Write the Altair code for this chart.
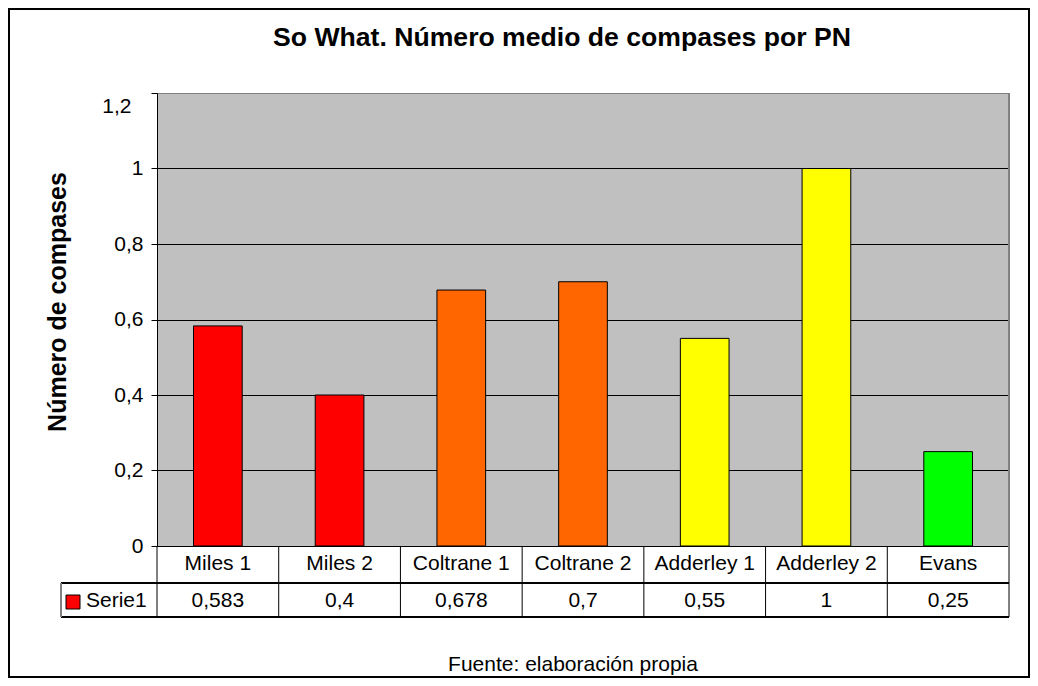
import altair as alt
import pandas as pd

categories = ["Miles 1", "Miles 2", "Coltrane 1", "Coltrane 2", "Adderley 1", "Adderley 2", "Evans"]
values = [0.583, 0.4, 0.678, 0.7, 0.55, 1, 0.25]
bar_colors = ["#FF0000", "#FF0000", "#FF6600", "#FF6600", "#FFFF00", "#FFFF00", "#00FF00"]
y_ticks = [0, 0.2, 0.4, 0.6, 0.8, 1.0, 1.2]
series_name = "Serie1"
title_text = "So What. Número medio de compases por PN"
y_title = "Número de compases"
footer_text = "Fuente: elaboración propia"

W, H = 852, 453
FONT = "Liberation Sans"

df = pd.DataFrame({"cat": categories, "value": values})

xenc = alt.X("cat:N", sort=categories, scale=alt.Scale(paddingInner=0, paddingOuter=0), axis=None)

base = alt.Chart(df)

bars = base.mark_bar(width=alt.RelativeBandSize(0.4), stroke="black", strokeWidth=1).encode(
    x=xenc,
    y=alt.Y("value:Q", scale=alt.Scale(domain=[0, 1.2], nice=False), title=None,
            axis=alt.Axis(values=y_ticks,
                          labelExpr="replace(format(datum.value, '.1~f'), '.', ',')",
                          labelFont=FONT, labelFontSize=21, labelColor="black",
                          labelPadding={"condition": {"test": "datum.value > 1.1", "value": 20}, "value": 8},
                          labelOffset={"condition": {"test": "datum.value > 1.1", "value": 13}, "value": 0},
                          tickSize=6, tickColor="black", domainColor="black",
                          grid=True,
                          gridColor={"condition": {"test": "datum.value > 1.1", "value": "#808080"}, "value": "black"},
                          gridOpacity=1, gridWidth=1)),
    color=alt.Color("cat:N", scale=alt.Scale(domain=categories, range=bar_colors), legend=None),
)

# table column boundaries
col_lines = base.mark_rule(color="black", strokeWidth=1).encode(
    x=alt.X("cat:N", sort=categories, bandPosition=0),
    y=alt.value(H), y2=alt.value(H + 71),
)
right_line = base.mark_rule(color="#808080", strokeWidth=1).encode(
    x=alt.value(W), y=alt.value(0), y2=alt.value(H + 71),
)
row_line1 = base.mark_rule(color="black", strokeWidth=1).encode(
    x=alt.value(-96), x2=alt.value(W), y=alt.value(H + 37),
)
row_line2 = base.mark_rule(color="black", strokeWidth=1).encode(
    x=alt.value(-96), x2=alt.value(W), y=alt.value(H + 71),
)
legend_left = base.mark_rule(color="#808080", strokeWidth=1).encode(
    x=alt.value(-96), y=alt.value(H + 37), y2=alt.value(H + 71),
)

cat_text = base.mark_text(font=FONT, fontSize=21, color="black", baseline="middle").encode(
    x=alt.X("cat:N", sort=categories, bandPosition=0.5),
    y=alt.value(H + 18),
    text="cat:N",
)
val_text = base.transform_calculate(
    lab="replace(format(datum.value, '.6~g'), '.', ',')"
).mark_text(font=FONT, fontSize=21, color="black", baseline="middle").encode(
    x=alt.X("cat:N", sort=categories, bandPosition=0.5),
    y=alt.value(H + 55),
    text="lab:N",
)

one = alt.Chart(pd.DataFrame({"s": [series_name]}))
legend_sq = one.mark_rect(fill=bar_colors[0], stroke="black", strokeWidth=1).encode(
    x=alt.value(-91), x2=alt.value(-77), y=alt.value(H + 49), y2=alt.value(H + 63),
)
legend_txt = one.mark_text(font=FONT, fontSize=21, color="black", align="left", baseline="middle").encode(
    x=alt.value(-71), y=alt.value(H + 55), text="s:N",
)

title = alt.Chart(pd.DataFrame({"t": [title_text]})).mark_text(
    font=FONT, fontSize=26.6, fontWeight="bold", color="black", align="center", baseline="alphabetic"
).encode(x=alt.value(405), y=alt.value(-47), text="t:N")

ytitle = alt.Chart(pd.DataFrame({"t": [y_title]})).mark_text(
    font=FONT, fontSize=25, fontWeight="bold", color="black", align="center", baseline="alphabetic", angle=270
).encode(x=alt.value(-91), y=alt.value(209), text="t:N")

footer = alt.Chart(pd.DataFrame({"t": [footer_text]})).mark_text(
    font=FONT, fontSize=21, color="black", align="center", baseline="alphabetic"
).encode(x=alt.value(416), y=alt.value(578), text="t:N")

border = alt.Chart(pd.DataFrame({"t": [1]})).mark_rect(
    filled=False, stroke="black", strokeWidth=2
).encode(x=alt.value(-148), x2=alt.value(872), y=alt.value(-84), y2=alt.value(584))

chart = alt.layer(
    bars, col_lines, right_line, row_line1, row_line2, legend_left,
    cat_text, val_text, legend_sq, legend_txt, title, ytitle, footer, border
).properties(
    width=W, height=H,
    autosize=alt.AutoSizeParams(type="none"),
    padding={"left": 149, "top": 85, "right": 21, "bottom": 132},
    background="white",
).configure_view(
    fill="#C0C0C0", stroke="#808080", strokeWidth=1
)

chart.save("out.html", embed_options={"renderer": "svg", "actions": False})
